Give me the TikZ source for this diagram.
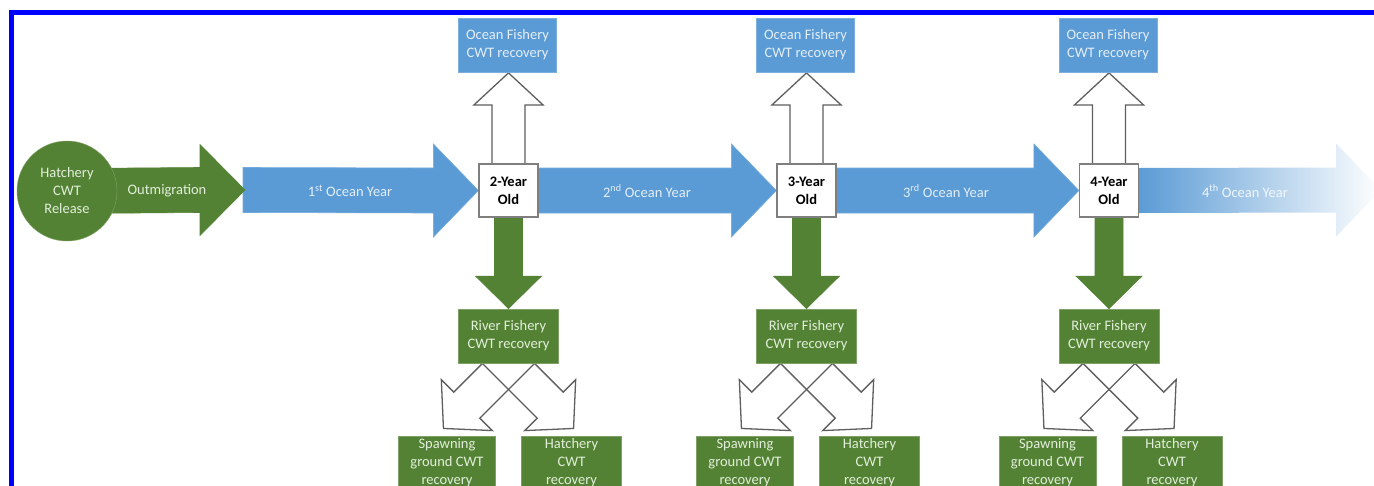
\documentclass[tikz,border=0pt]{standalone}
\usepackage{fontspec}
\setmainfont{Carlito}
\usetikzlibrary{calc}
\pgfdeclarelayer{bg}
\pgfsetlayers{bg,main}
\definecolor{fgreen}{HTML}{548235}
\definecolor{oblue}{HTML}{5B9BD5}
\definecolor{frameblue}{HTML}{0000FF}
\definecolor{lgtxt}{HTML}{E2EFDA}
\definecolor{lbtxt}{HTML}{E4EEF8}
\definecolor{outl}{HTML}{5F5F5F}
\begin{document}
\begin{tikzpicture}[x=1pt,y=-1pt,
  txt/.style={font=\fontsize{14.5}{18}\selectfont, align=center},
  gbox/.style={txt, fill=fgreen, draw=fgreen!75!white, line width=0.8pt, text=lgtxt, minimum width=100, minimum height=54, inner sep=0pt},
  bbox/.style={txt, fill=oblue, draw=oblue!80!white, line width=0.8pt, text=lbtxt, minimum width=98, minimum height=54, inner sep=0pt},
  ybox/.style={font=\fontsize{14.5}{18}\selectfont\bfseries, align=center, fill=white, draw=outl!80!white, line width=1.2pt, minimum width=59, minimum height=53, inner sep=0pt},
  blueshape/.style={fill=oblue, draw=oblue!85!white, line width=0.6pt},
  greenshape/.style={fill=fgreen, draw=fgreen, line width=0.6pt},
  hollow/.style={fill=white, draw=outl, line width=1.3pt, line join=miter},
  hollowline/.style={draw=outl, line width=1.3pt, line join=miter}
  ]
\useasboundingbox (0,0) rectangle (1374,485);
\clip (0,0) rectangle (1374,485);

% ---------- nodes ----------
\node[circle, fill=fgreen, draw=fgreen!75!white, minimum size=100, inner sep=0pt, txt, text=lgtxt] (rel) at (67,191) {Hatchery\\CWT\\Release};
\foreach \n/\c in {2/508.5,3/806.5,4/1109}{
  \node[ybox] (y\n) at (\c,190.5) {\n-Year\\Old};
  \node[bbox] (of\n) at (\c-1,45) {Ocean Fishery\\CWT recovery};
  \node[gbox] (rf\n) at (\c,336) {River Fishery\\CWT recovery};
  \node[gbox, minimum width=97] (sp\n) at (\c-61.5,463) {Spawning\\ground CWT\\recovery};
  \node[gbox] (hc\n) at (\c+63,463) {Hatchery\\CWT\\recovery};
}
\coordinate (t0) at (245,190);
\coordinate (s1) at (243,190);
\coordinate (end4) at (1381,190);
\node[txt, text=lgtxt] (lout) at (167,191) {Outmigration};
\node[txt, text=lbtxt] (l1) at (350,191) {1\textsuperscript{st} Ocean Year};
\node[txt, text=lbtxt] (l2) at (647,191) {2\textsuperscript{nd} Ocean Year};
\node[txt, text=lbtxt] (l3) at (946,191) {3\textsuperscript{rd} Ocean Year};
\node[txt, text=white!92!oblue] (l4) at (1245,191) {4\textsuperscript{th} Ocean Year};

% ---------- frame ----------
\draw[frameblue, line width=5pt] (11.5,490) -- (11.5,12.5) -- (1380,12.5);

% ---------- block arrows ----------
\begin{pgfonlayer}{bg}
\fill[white] (0,0) rectangle (1374,485);
\foreach \s/\t in {s1/y2.west, y2.east/y3.west, y3.east/y4.west}{
  \draw[blueshape] ($(\s)+(0,-22.5)$) -- ($(\t)+(-45,-22.5)$) -- ($(\t)+(-45,-46.5)$) -- (\t)
     -- ($(\t)+(-45,46.5)$) -- ($(\t)+(-45,22.5)$) -- ($(\s)+(0,22.5)$) -- cycle;
}
\shade[left color=oblue, middle color=oblue!32!white, right color=white]
  ($(y4.east)+(0,-22.5)$) -- ($(end4)+(-45,-22.5)$) -- ($(end4)+(-45,-46.5)$) -- (end4)
  -- ($(end4)+(-45,46.5)$) -- ($(end4)+(-45,22.5)$) -- ($(y4.east)+(0,22.5)$) -- cycle;
\draw[greenshape] ($(rel.center)+(0,-22.5)$) -- ($(t0)+(-45,-22.5)$) -- ($(t0)+(-45,-45.5)$) -- (t0)
     -- ($(t0)+(-45,45.5)$) -- ($(t0)+(-45,22.5)$) -- ($(rel.center)+(0,22.5)$) -- cycle;
\foreach \n in {2,3,4}{
  % up to ocean fishery
  \draw[hollow] ($(y\n.north)+(-16.5,1)$) -- ($(y\n.north)+(-16.5,-58.5)$) -- ($(y\n.north)+(-34.5,-58.5)$)
     -- ($(y\n.north)+(0,-90.5)$) -- ($(y\n.north)+(34.5,-58.5)$) -- ($(y\n.north)+(16.5,-58.5)$)
     -- ($(y\n.north)+(16.5,1)$) -- cycle;
  % down to river fishery
  \draw[greenshape] ($(y\n.south)+(-14,-1)$) -- ($(y\n.south)+(-14,58.5)$) -- ($(y\n.south)+(-33,58.5)$)
     -- (rf\n.north) -- ($(y\n.south)+(33,58.5)$) -- ($(y\n.south)+(14,58.5)$)
     -- ($(y\n.south)+(14,-1)$) -- cycle;
  % diagonal to spawning ground
  \draw[hollowline] ($(rf\n.south)+(4.67,-30.69)$) -- ($(rf\n.south)+(-54.73,28.71)$) -- ($(rf\n.south)+(-67.17,16.26)$)
     -- ($(rf\n.south)+(-65.05,65.05)$) -- ($(rf\n.south)+(-16.26,67.17)$) -- ($(rf\n.south)+(-28.71,54.73)$)
     -- ($(rf\n.south)+(30.69,-4.67)$) -- cycle;
  % diagonal to hatchery
  \draw[hollowline] ($(rf\n.south)+(-4.67,-30.69)$) -- ($(rf\n.south)+(54.73,28.71)$) -- ($(rf\n.south)+(67.17,16.26)$)
     -- ($(rf\n.south)+(65.05,65.05)$) -- ($(rf\n.south)+(16.26,67.17)$) -- ($(rf\n.south)+(28.71,54.73)$)
     -- ($(rf\n.south)+(-30.69,-4.67)$) -- cycle;
}
\end{pgfonlayer}
\end{tikzpicture}
\end{document}
